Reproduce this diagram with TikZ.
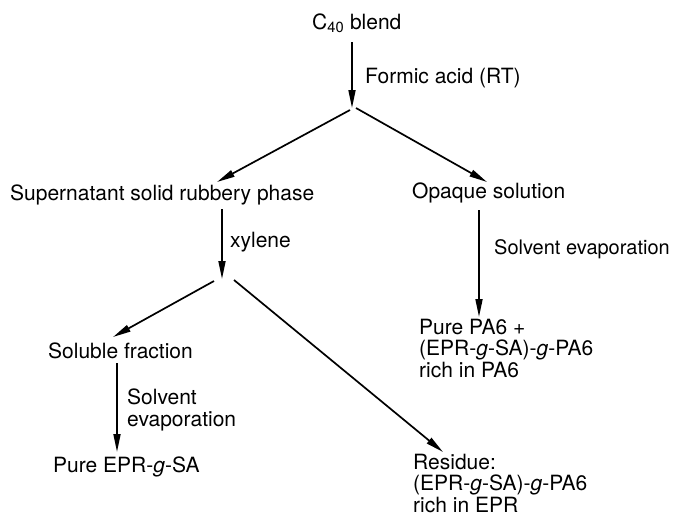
\documentclass[tikz,border=0pt]{standalone}
\usepackage{fontspec}
\setmainfont{TeX Gyre Heros}
\usetikzlibrary{arrows.meta}

\begin{document}
\begin{tikzpicture}[x=1pt,y=-1pt,
        font=\fontsize{21}{21.5}\selectfont,
        txt/.style={anchor=base west, inner sep=0pt, align=left},
        flow/.style={line width=1.7pt, -{Triangle[length=18pt,width=7pt]}}]
            \useasboundingbox (0,0) rectangle (677,517);
            % arrow ends and split points
            \coordinate (A) at (352,42);
            \coordinate (B) at (352,108);
            \coordinate (B1) at (350,110);
            \coordinate (B2) at (356,108);
            \coordinate (C) at (217,182);
            \coordinate (D) at (487,182);
            \coordinate (E) at (222,209);
            \coordinate (F) at (222,279);
            \coordinate (F1) at (214,281);
            \coordinate (F2) at (234,280);
            \coordinate (G) at (113,337);
            \coordinate (H) at (443,452);
            \coordinate (I) at (479,210);
            \coordinate (J) at (479,317);
            \coordinate (K) at (117,363);
            \coordinate (L) at (117,452);
            % texts (base = last line)
            \node[txt] (blend) at (312,29) {C\textsubscript{40} blend};
            \node[txt] (formic) at (365,83) {Formic acid (RT)};
            \node[txt] (super) at (10,200) {Supernatant solid rubbery phase};
            \node[txt] (opaque) at (412,198) {Opaque solution};
            \node[txt] (xylene) at (230,247) {xylene};
            \node[txt, font=\fontsize{20}{21.5}\selectfont] (evapR) at (494,254) {Solvent evaporation};
            \node[txt] (soluble) at (48,358) {Soluble fraction};
            \node[txt] (evapL) at (127,426) {Solvent\\evaporation};
            \node[txt] (pureEPR) at (53,472) {Pure EPR-\textit{g}-SA};
            \node[txt] (purePA) at (419,377) {Pure PA6 +\\(EPR-\textit{g}-SA)-\textit{g}-PA6\\rich in PA6};
            \node[txt] (residue) at (413,512) {Residue:\\(EPR-\textit{g}-SA)-\textit{g}-PA6\\rich in EPR};
            % arrows
            \draw[flow] (A) -- (B);
            \draw[flow] (B1) -- (C);
            \draw[flow] (B2) -- (D);
            \draw[flow] (E) -- (F);
            \draw[flow] (F1) -- (G);
            \draw[flow] (F2) -- (H);
            \draw[flow] (I) -- (J);
            \draw[flow] (K) -- (L);
        \end{tikzpicture}
\end{document}
